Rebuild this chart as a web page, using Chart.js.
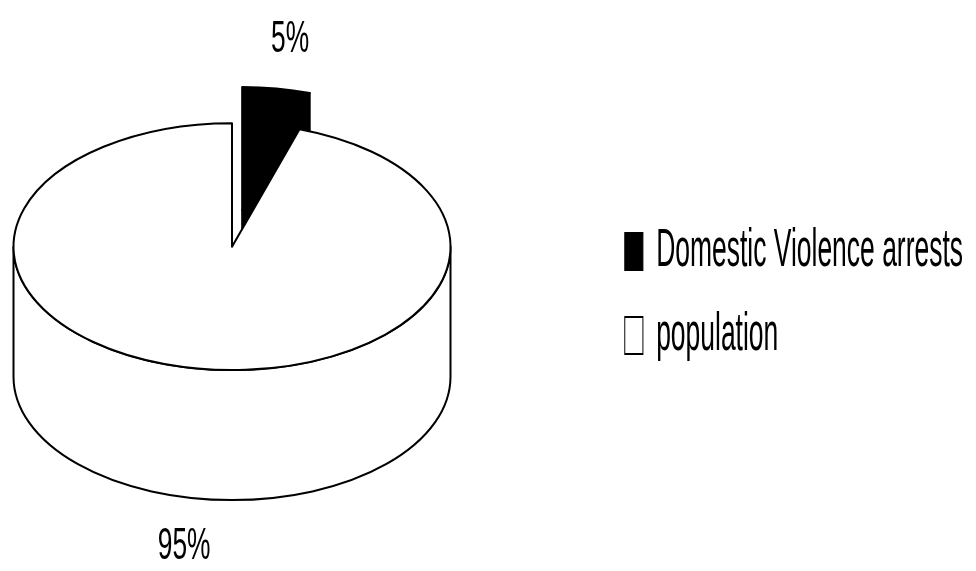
<!DOCTYPE html>
<html>
<head>
<meta charset="utf-8">
<script src="https://cdn.jsdelivr.net/npm/chart.js@4.4.1/dist/chart.umd.min.js"></script>
<style>
  html, body { margin: 0; padding: 0; background: #fff; }
  #wrap { width: 976px; height: 571px; }
</style>
</head>
<body>
<div id="wrap"><canvas id="pieChart"></canvas></div>
<script>
const categories = ['Domestic Violence arrests', 'population'];
const shares = [5, 95];
const sliceColors = ['#000000', '#ffffff'];

const FONT = "'Liberation Sans', Arial, sans-serif";
const TILT = 0.565;          // ry / rx of the top face
const DEPTH = 130;           // height of the cylinder wall
const LABEL_SIZE = 44;
const LABEL_SQUEEZE = 0.6;   // the scan is squashed sideways
const LEGEND_SQUEEZE = 0.49;
const LEGEND_MARGIN = 13;    // gap between legend text and right edge

// draws the pie as a tilted cylinder, using the arcs Chart.js laid out
const pie3d = {
  id: 'pie3d',
  beforeDatasetsDraw(chart) {
    const ctx = chart.ctx;
    const arcs = chart.getDatasetMeta(0).data;
    const total = shares.reduce((a, b) => a + b, 0);

    let rise = 0;
    arcs.forEach(arc => {
      const mid = (arc.startAngle + arc.endAngle) / 2;
      rise = Math.max(rise, -Math.sin(mid) * (arc.options.offset || 0) * TILT);
    });

    const geom = arcs.map(arc => {
      const mid = (arc.startAngle + arc.endAngle) / 2;
      const off = arc.options.offset || 0;
      return {
        mid,
        rx: arc.outerRadius,
        ry: arc.outerRadius * TILT,
        cx: arc.x + Math.cos(mid) * off,
        cy: arc.y - (DEPTH - rise) / 2 + Math.sin(mid) * off * TILT
      };
    });

    arcs.forEach((arc, i) => {
      const { rx, ry, cx, cy } = geom[i];
      const a0 = arc.startAngle, a1 = arc.endAngle;
      ctx.save();
      ctx.fillStyle = arc.options.backgroundColor;
      ctx.strokeStyle = arc.options.borderColor;
      ctx.lineWidth = arc.options.borderWidth;
      ctx.lineJoin = 'round';

      // cut faces turned towards the viewer
      [[a0, Math.cos(a0) < -1e-6], [a1, Math.cos(a1) > 1e-6]].forEach(([a, show]) => {
        if (!show) return;
        const px = cx + Math.cos(a) * rx, py = cy + Math.sin(a) * ry;
        ctx.beginPath();
        ctx.moveTo(cx, cy);
        ctx.lineTo(px, py);
        ctx.lineTo(px, py + DEPTH);
        ctx.lineTo(cx, cy + DEPTH);
        ctx.closePath();
        ctx.fill();
        ctx.stroke();
      });

      // outer wall, front half only
      [-2, 0, 2].forEach(k => {
        const s = Math.max(a0, k * Math.PI), e = Math.min(a1, (k + 1) * Math.PI);
        if (e <= s) return;
        ctx.beginPath();
        ctx.ellipse(cx, cy, rx, ry, 0, s, e);
        ctx.ellipse(cx, cy + DEPTH, rx, ry, 0, e, s, true);
        ctx.closePath();
        ctx.fill();
        ctx.stroke();
      });

      // top face
      ctx.beginPath();
      ctx.moveTo(cx, cy);
      ctx.ellipse(cx, cy, rx, ry, 0, a0, a1);
      ctx.closePath();
      ctx.fill();
      ctx.stroke();
      ctx.restore();
    });

    // percentage labels
    ctx.save();
    ctx.fillStyle = '#000';
    ctx.font = LABEL_SIZE + 'px ' + FONT;
    ctx.textAlign = 'center';
    ctx.textBaseline = 'middle';
    arcs.forEach((arc, i) => {
      const { mid, rx, ry, cx, cy } = geom[i];
      const lx = cx + Math.cos(mid) * rx * 1.4;
      let ly = cy + Math.sin(mid) * ry * 1.4;
      if (Math.sin(mid) > 0) ly += DEPTH;
      const pct = Math.round(shares[i] / total * 100) + '%';
      ctx.save();
      ctx.translate(lx, ly);
      ctx.scale(LABEL_SQUEEZE, 1);
      ctx.fillText(pct, 0, 0);
      ctx.restore();
    });
    ctx.restore();
    return false;
  }
};

// squash the legend sideways like the scanned original and
// right-align it against the edge of the canvas
const squeezeLegend = {
  id: 'squeezeLegend',
  beforeDraw(chart) {
    const legend = chart.legend;
    if (!legend || legend._squeezed) return;
    const draw = legend.draw.bind(legend);
    legend.draw = function (area) {
      const ctx = chart.ctx;
      const pad = legend.options.labels.padding;
      const x0 = legend.left + pad;
      const contentW = Math.max(...legend.legendHitBoxes.map(b => b.width));
      const target = chart.width - LEGEND_MARGIN - contentW * LEGEND_SQUEEZE;
      const right = legend.right;
      legend.right = x0 + contentW + pad;   // keep the clip from cutting text
      ctx.save();
      ctx.translate(target, 0);
      ctx.scale(LEGEND_SQUEEZE, 1);
      ctx.translate(-x0, 0);
      draw(area);
      ctx.restore();
      legend.right = right;
    };
    legend._squeezed = true;
  }
};

new Chart(document.getElementById('pieChart'), {
  type: 'pie',
  data: {
    labels: categories,
    datasets: [{
      data: shares,
      backgroundColor: sliceColors,
      borderColor: '#000',
      borderWidth: 2,
      offset: [65, 0]
    }]
  },
  options: {
    responsive: true,
    maintainAspectRatio: false,
    animation: false,
    radius: 218.5,
    layout: { padding: { left: 0, top: 16, right: 48, bottom: 0 } },
    plugins: {
      tooltip: { enabled: false },
      legend: {
        position: 'right',
        labels: {
          color: '#000',
          font: { family: FONT, size: 54 },
          boxWidth: 37,
          boxHeight: 37,
          padding: 30
        }
      }
    }
  },
  plugins: [pie3d, squeezeLegend]
});
</script>
</body>
</html>
